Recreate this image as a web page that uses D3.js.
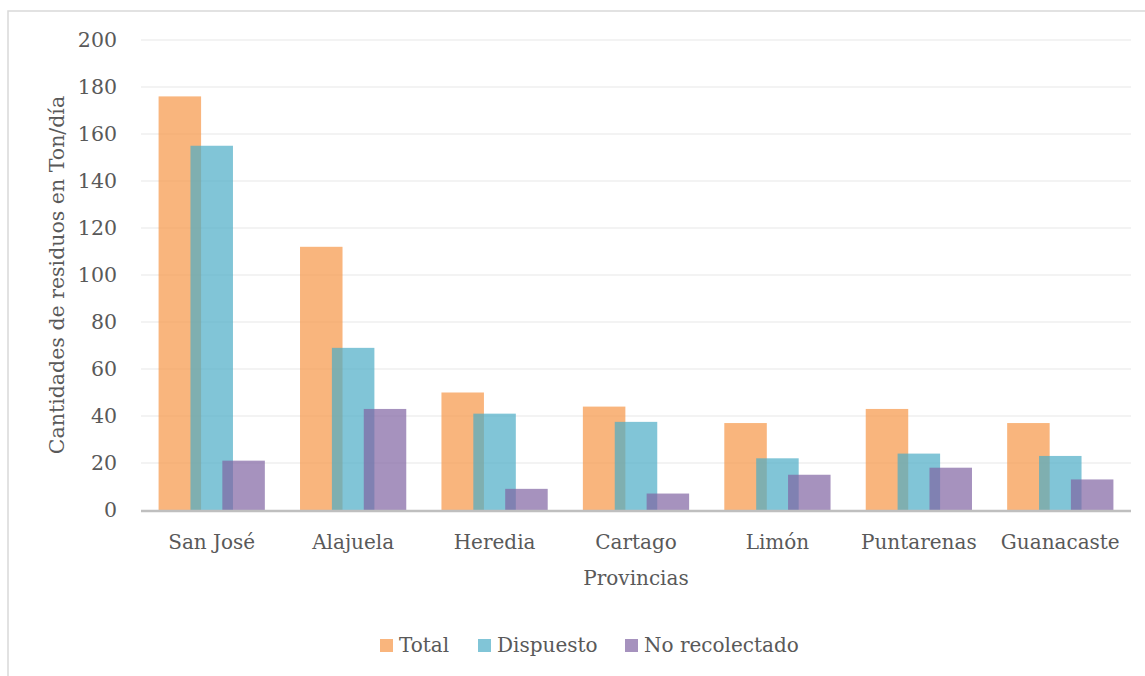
<!DOCTYPE html>
<html>
<head>
<meta charset="utf-8">
<script src="https://cdnjs.cloudflare.com/ajax/libs/d3/7.8.5/d3.min.js"></script>
<style>
body { margin: 0; background: #fff; }
text { font-family: "DejaVu Serif", serif; fill: #595959; }
</style>
</head>
<body>
<script>
// chart values
var provincias = ["San José", "Alajuela", "Heredia", "Cartago", "Limón", "Puntarenas", "Guanacaste"];
var series = ["Total", "Dispuesto", "No recolectado"];
var total = [176, 112, 50, 44, 37, 43, 37];
var dispuesto = [155, 69, 41, 37.5, 22, 24, 23];
var noRecolectado = [21, 43, 9, 7, 15, 18, 13];
var yTicks = [0, 20, 40, 60, 80, 100, 120, 140, 160, 180, 200];
var colors = ["#F79646", "#4BACC6", "#8064A2"];

var width = 1145, height = 676;
// note: "top" is taken by window.top, so plot edges get their own names
var plotLeft = 141, plotRight = 1131, plotTop = 40, plotBottom = 510;

var svg = d3.select("body").append("svg")
	.attr("width", width)
	.attr("height", height);

// outer frame (only left and top visible)
svg.append("path")
	.attr("d", "M 8 676 L 8 11 L 1145 11")
	.attr("fill", "none")
	.attr("stroke", "#D9D9D9")
	.attr("stroke-width", 1.5);

var x = d3.scaleBand().domain(provincias).range([plotLeft, plotRight]).padding(0);
var y = d3.scaleLinear().domain([0, 200]).range([plotBottom, plotTop]);

// gridlines
svg.append("g").selectAll("line")
	.data(yTicks.slice(1))
	.enter().append("line")
	.attr("x1", plotLeft).attr("x2", plotRight)
	.attr("y1", function(d){ return y(d); })
	.attr("y2", function(d){ return y(d); })
	.attr("stroke", "#EFEFEF")
	.attr("stroke-width", 1.5);

// y tick labels
svg.append("g").selectAll("text")
	.data(yTicks)
	.enter().append("text")
	.attr("x", plotLeft - 24)
	.attr("y", function(d){ return y(d) + 7; })
	.attr("text-anchor", "end")
	.style("font-size", "20.5px")
	.text(function(d){ return d; });

// bars: width w, overlapping by 25%
var barW = 42.5, step = barW * 0.75;
var allData = [total, dispuesto, noRecolectado];
allData.forEach(function(vals, s){
	svg.append("g").selectAll("rect")
		.data(vals)
		.enter().append("rect")
		.attr("x", function(d, i){
			var c = x(provincias[i]) + x.bandwidth()/2;
			return c - barW/2 + (s - 1) * step;
		})
		.attr("y", function(d){ return y(d); })
		.attr("width", barW)
		.attr("height", function(d){ return y(0) - y(d); })
		.attr("fill", colors[s])
		.attr("fill-opacity", 0.7);
});

// x axis line
svg.append("line")
	.attr("x1", plotLeft).attr("x2", plotRight)
	.attr("y1", y(0) + 1).attr("y2", y(0) + 1)
	.attr("stroke", "#BFBFBF")
	.attr("stroke-width", 2.5);

// category labels
svg.append("g").selectAll("text")
	.data(provincias)
	.enter().append("text")
	.attr("x", function(d){ return x(d) + x.bandwidth()/2; })
	.attr("y", 549)
	.attr("text-anchor", "middle")
	.style("font-size", "20px")
	.text(function(d){ return d; });

// axis titles
svg.append("text")
	.attr("x", (plotLeft + plotRight)/2)
	.attr("y", 585)
	.attr("text-anchor", "middle")
	.style("font-size", "20px")
	.text("Provincias");

svg.append("text")
	.attr("transform", "translate(64," + ((plotTop + plotBottom)/2) + ") rotate(-90)")
	.attr("text-anchor", "middle")
	.style("font-size", "20.5px")
	.text("Cantidades de residuos en Ton/día");

// legend
var legendX = [380, 478, 625];
var legend = svg.append("g").selectAll("g")
	.data(series)
	.enter().append("g")
	.attr("transform", function(d, i){ return "translate(" + legendX[i] + ",639)"; });
legend.append("rect")
	.attr("width", 13).attr("height", 13)
	.attr("fill", function(d, i){ return colors[i]; })
	.attr("fill-opacity", 0.7);
legend.append("text")
	.attr("x", 19).attr("y", 13)
	.style("font-size", "20px")
	.text(function(d){ return d; });
</script>
</body>
</html>
